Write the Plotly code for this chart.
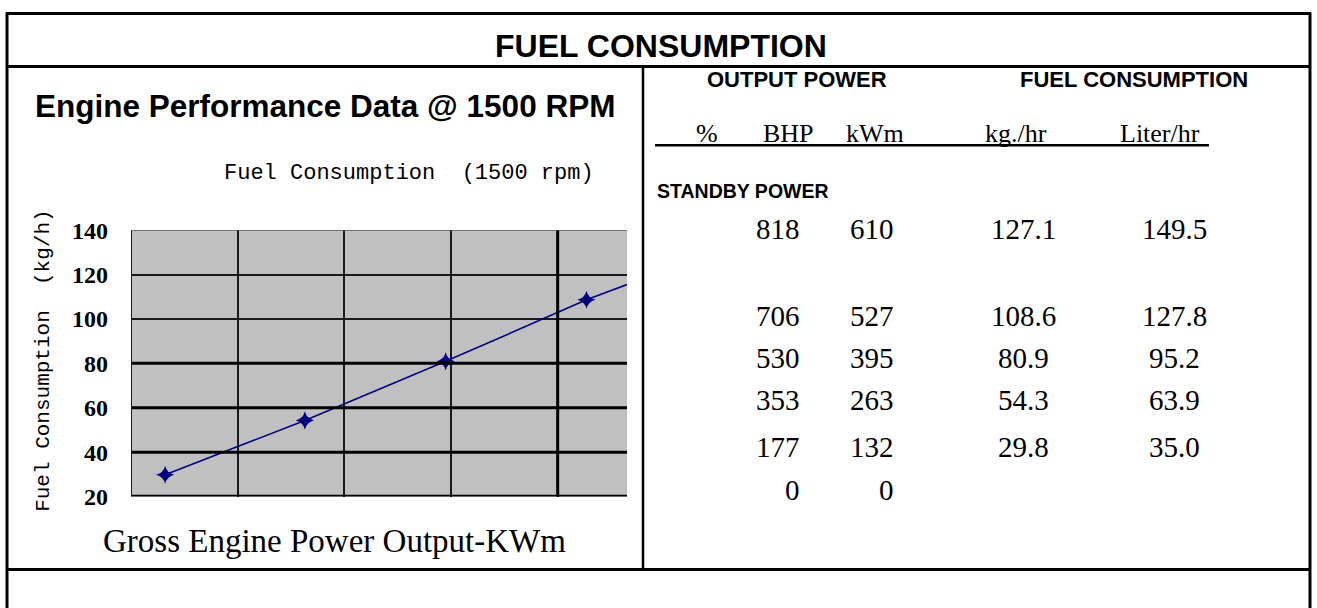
import numpy as np
import plotly.graph_objects as go

W, H = 1317, 608

# ---------------- data ----------------
power_kwm = [132, 263, 395, 527]
fuel_kgh = [29.8, 54.3, 80.9, 108.6]

x_range = [100, 565]
y_range = [20, 140]
x_grid = [200, 300, 400, 500]
y_ticks = [20, 40, 60, 80, 100, 120, 140]

col_headers = ["%", "BHP", "kWm", "kg./hr", "Liter/hr"]
bhp = ["818", "706", "530", "353", "177", "0"]
kwm = ["610", "527", "395", "263", "132", "0"]
kg_hr = ["127.1", "108.6", "80.9", "54.3", "29.8", ""]
liter_hr = ["149.5", "127.8", "95.2", "63.9", "35.0", ""]

# ---------------- helpers ----------------
# the page is shown slightly squeezed vertically; map target screen rows to figure rows
V_OFF, V_SCALE = 11.5, 0.959


def px(x):
    return x / W


def py(y):
    return 1 - ((y - V_OFF) / V_SCALE) / H


MONO = "Liberation Mono"
SERIF = "Liberation Serif"
SANS = "Liberation Sans"

fig = go.Figure()

# line through the data, extended along the least-squares trend to the axis end
slope, intercept = np.polyfit(power_kwm, fuel_kgh, 1)
fig.add_trace(go.Scatter(x=power_kwm, y=fuel_kgh, mode="lines",
                         line=dict(color="#00007f", width=1.6),
                         hoverinfo="skip", showlegend=False))
fig.add_trace(go.Scatter(x=[power_kwm[-1], x_range[1]],
                         y=[fuel_kgh[-1], slope * x_range[1] + intercept], mode="lines",
                         line=dict(color="#00007f", width=1.6),
                         hoverinfo="skip", showlegend=False))
fig.add_trace(go.Scatter(x=power_kwm, y=fuel_kgh, mode="markers",
                         marker=dict(symbol="star-diamond", size=13, color="#00007f",
                                     line=dict(width=0)),
                         showlegend=False))

plot_l, plot_r, plot_t, plot_b = 131, 627, 229, 496

fig.update_layout(
    width=W, height=H, autosize=False,
    margin=dict(l=0, r=0, t=0, b=0, pad=0),
    paper_bgcolor="white",
    plot_bgcolor="#c0c0c0",
    showlegend=False,
    xaxis=dict(domain=[px(plot_l), px(plot_r)], range=x_range,
               tickvals=x_grid, showticklabels=False, ticks="",
               showgrid=True, gridcolor="#1a1a1a", gridwidth=1.5,
               zeroline=False, showline=False, fixedrange=True),
    yaxis=dict(domain=[py(plot_b), py(plot_t)], range=y_range,
               tickvals=y_ticks, ticks="", ticklabelstandoff=22,
               tickfont=dict(family=SERIF, size=24, color="black", weight="bold"),
               showgrid=True, gridcolor="#1a1a1a", gridwidth=1.5,
               zeroline=False, showline=False, fixedrange=True),
)

shapes = []
# heavy grid lines and chart frame (in axis units)
for yv in [40, 60, 80]:
    shapes.append(dict(type="line", xref="x", yref="y", x0=x_range[0], x1=x_range[1],
                       y0=yv, y1=yv, line=dict(color="black", width=3)))
shapes.append(dict(type="line", xref="x", yref="y", x0=500, x1=500,
                   y0=y_range[0], y1=y_range[1], line=dict(color="black", width=3)))
shapes.append(dict(type="line", xref="x", yref="y", x0=x_range[0], x1=x_range[1],
                   y0=y_range[0], y1=y_range[0], line=dict(color="black", width=3.5)))
shapes.append(dict(type="line", xref="x", yref="y", x0=x_range[0], x1=x_range[0],
                   y0=y_range[0], y1=y_range[1], line=dict(color="#1a1a1a", width=2)))
shapes.append(dict(type="line", xref="x", yref="y", x0=x_range[0], x1=x_range[1],
                   y0=y_range[1], y1=y_range[1], line=dict(color="#555", width=1.5)))


# document table borders
def hline(y, x0, x1, w=3):
    shapes.append(dict(type="line", xref="paper", yref="paper", x0=px(x0), x1=px(x1),
                       y0=py(y), y1=py(y), line=dict(color="black", width=w)))


def vline(x, y0, y1, w=3):
    shapes.append(dict(type="line", xref="paper", yref="paper", x0=px(x), x1=px(x),
                       y0=py(y0), y1=py(y1), line=dict(color="black", width=w)))


hline(12, 6, 1311)
hline(65, 6, 1311)
hline(569, 6, 1311)
vline(7, 11, 640)
vline(1310, 11, 640)
vline(643, 65, 569, 2.5)
hline(144, 655, 1209, 2.5)

fig.update_layout(shapes=shapes)

ann = []


def text(x, y, s, size, family=MONO, bold=False, anchor="center", angle=0):
    ann.append(dict(x=px(x), y=py(y), xref="paper", yref="paper", text=s,
                    showarrow=False, xanchor=anchor, yanchor="middle", textangle=angle,
                    font=dict(family=family, size=size, color="black",
                              weight="bold" if bold else "normal")))


text(661, 45, "FUEL CONSUMPTION", 32, SANS, True)
text(325, 105, "Engine Performance Data @ 1500 RPM", 31.5, SANS, True)
text(409, 172, "Fuel Consumption  (1500 rpm)", 22)
text(44, 360, "Fuel Consumption  (kg/h)", 21, angle=-90)
text(334, 540, "Gross Engine Power Output-KWm", 33, SERIF)

text(797, 78, "OUTPUT POWER", 22, SANS, True)
text(1134, 78, "FUEL CONSUMPTION", 22, SANS, True)
text(655, 190, "STANDBY POWER", 19.5, SANS, True, anchor="left")

header_x = [707, 788, 875, 1016, 1160]
for hx, h in zip(header_x, col_headers):
    text(hx, 132, h, 26, SERIF)

row_y = [228, 315, 357, 399, 446, 489]
for i, ry in enumerate(row_y):
    text(802, ry, bhp[i], 29, SERIF, anchor="right")
    text(896, ry, kwm[i], 29, SERIF, anchor="right")
    if kg_hr[i]:
        text(1023, ry, kg_hr[i], 29, SERIF)
    if liter_hr[i]:
        text(1174, ry, liter_hr[i], 29, SERIF)

fig.update_layout(annotations=ann)

fig.write_html(
    "out.html",
    config={"displayModeBar": False},
    post_script="document.body.style.margin='0';document.body.style.overflow='hidden';",
)
